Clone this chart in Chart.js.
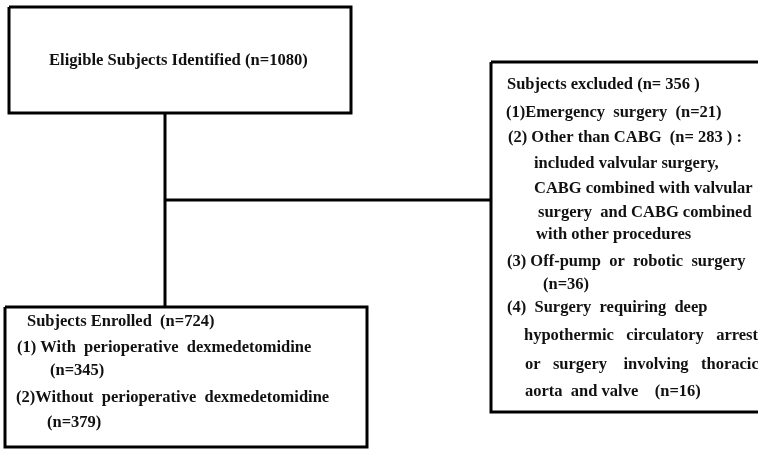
<!DOCTYPE html>
<html><head><meta charset="utf-8">
<script src="https://cdn.jsdelivr.net/npm/chart.js@4/dist/chart.umd.min.js"></script>
<style>html,body{margin:0;padding:0;background:#fff;overflow:hidden}canvas{display:block}</style>
</head><body>
<canvas id="c" width="758" height="449"></canvas>
<script>
const identifiedN = 1080;
const excludedN = 356;
const exclusionReasonsN = [21, 283, 36, 16];
const enrolledN = 724;
const groupN = [345, 379];

// ---- layout (flowchart coordinates, in a 758 x 449 frame) ----
const boxes = [
  [[9,7],[351,7],[351,113],[9,113],[9,7]],          // identified
  [[491,62],[775,62],[775,412],[491,412],[491,62]], // excluded
  [[5,307],[367,307],[367,447],[5,447],[5,307]]     // enrolled
];
const connectors = [
  [[165,113],[165,307]],
  [[165,200],[491,200]]
];

const texts = [
  {t:`Eligible Subjects Identified (n=${identifiedN})`, x:49, y:61, s:16.6},
  {t:`Subjects excluded (n= ${excludedN} )`, x:507, y:85},
  {t:`(1)Emergency  surgery  (n=${exclusionReasonsN[0]})`, x:506, y:113},
  {t:`(2) Other than CABG  (n= ${exclusionReasonsN[1]} ) :`, x:508, y:138},
  {t:`included valvular surgery,`, x:534, y:164},
  {t:`CABG combined with valvular`, x:534, y:189},
  {t:`surgery  and CABG combined`, x:538, y:213},
  {t:`with other procedures`, x:536, y:235},
  {t:`(3) Off-pump  or  robotic  surgery`, x:507, y:262},
  {t:`(n=${exclusionReasonsN[2]})`, x:543, y:285},
  {t:`(4)  Surgery  requiring  deep`, x:507, y:308},
  {t:`hypothermic   circulatory   arrest`, x:524, y:336},
  {t:`or   surgery    involving   thoracic`, x:525, y:365},
  {t:`aorta  and valve    (n=${exclusionReasonsN[3]})`, x:525, y:392},
  {t:`Subjects Enrolled  (n=${enrolledN})`, x:27, y:322},
  {t:`(1) With  perioperative  dexmedetomidine`, x:17, y:348},
  {t:`(n=${groupN[0]})`, x:50, y:371},
  {t:`(2)Without  perioperative  dexmedetomidine`, x:16, y:398},
  {t:`(n=${groupN[1]})`, x:47, y:423}
];

const toPts = a => a.map(p => ({x:p[0], y:p[1]}));
const datasets = [...boxes, ...connectors].map(seg => ({
  data: toPts(seg), showLine: true, borderColor: '#000', borderWidth: 3,
  pointRadius: 0, fill: false, tension: 0, borderJoinStyle: 'miter', clip: false
}));

const textPlugin = {
  id: 'flowText',
  afterDatasetsDraw(chart) {
    const {ctx, scales:{x, y}} = chart;
    ctx.save();
    ctx.fillStyle = '#111';
    ctx.textBaseline = 'middle';
    ctx.textAlign = 'left';
    texts.forEach(o => {
      ctx.font = `bold ${o.s || 16.5}px "Liberation Serif", "Times New Roman", serif`;
      ctx.fillText(o.t, x.getPixelForValue(o.x), y.getPixelForValue(o.y));
    });
    ctx.restore();
  }
};

new Chart(document.getElementById('c'), {
  type: 'scatter',
  data: { datasets },
  options: {
    responsive: false, animation: false,
    layout: { padding: 0 },
    plugins: { legend: {display:false}, tooltip: {enabled:false} },
    scales: {
      x: { type:'linear', min:0, max:758, display:false },
      y: { type:'linear', min:0, max:449, reverse:true, display:false }
    }
  },
  plugins: [textPlugin]
});
</script>
</body></html>
